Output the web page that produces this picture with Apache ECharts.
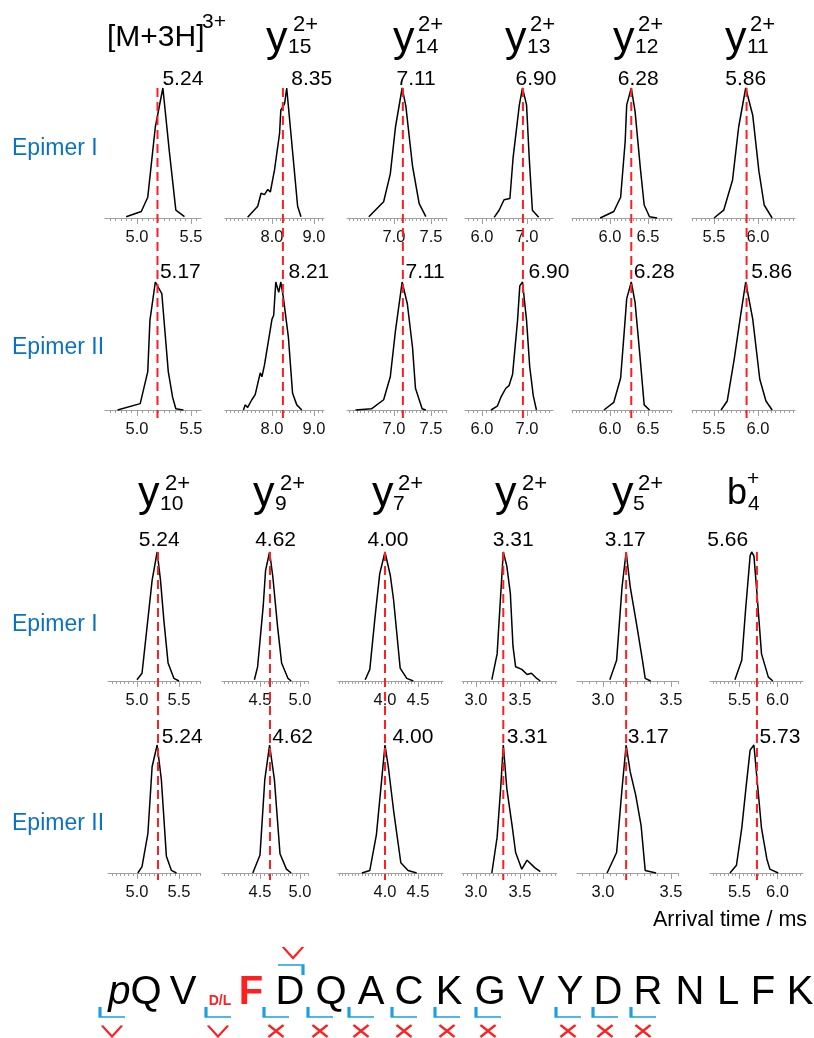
<!DOCTYPE html>
<html><head><meta charset="utf-8">
<script src="https://cdn.jsdelivr.net/npm/echarts@6/dist/echarts.min.js"></script>
<style>html,body{margin:0;padding:0;background:#fff}#c{width:814px;height:1038px}</style>
</head><body><div id="c"></div>
<script>
// ---------------- DATA ----------------
const ionMain = ['[M+3H]','y','y','y','y','y','y','y','y','y','y','b'];
const ionSub  = ['','15','14','13','12','11','10','9','7','6','5','4'];
const ionSup  = ['3+','2+','2+','2+','2+','2+','2+','2+','2+','2+','2+','+'];
const peakEpimerI  = [5.24, 8.35, 7.11, 6.90, 6.28, 5.86, 5.24, 4.62, 4.00, 3.31, 3.17, 5.66];
const peakEpimerII = [5.17, 8.21, 7.11, 6.90, 6.28, 5.86, 5.24, 4.62, 4.00, 3.31, 3.17, 5.73];
const refLine      = [5.19, 8.26, 7.12, 6.91, 6.28, 5.87, 5.25, 4.625, 4.00, 3.31, 3.17, 5.73];
const tickLabels = [[5.0,5.5],[8.0,9.0],[7.0,7.5],[6.0,7.0],[6.0,6.5],[5.5,6.0],
                    [5.0,5.5],[4.5,5.0],[4.0,4.5],[3.0,3.5],[3.0,3.5],[5.5,6.0]];
const axisRange = [[4.704,5.593],[6.881,9.238],[6.365,7.716],[5.622,7.578],[5.5,6.816],[5.25,6.42],
                   [4.655,5.75],[4.025,5.1],[3.288,4.879],[2.841,3.92],[2.809,3.551],[5.112,6.336]];
const minorStep = [0.05,0.1,0.05,0.1,0.05,0.05,0.05,0.05,0.05,0.05,0.05,0.05];

// arrival time distributions [arrival time (ms), normalised intensity]
const I_M3H = [[4.90,0.01],[5.04,0.05],[5.10,0.16],[5.17,0.70],[5.24,1.00],[5.30,0.51],[5.36,0.06],[5.44,0.01]];
const I_y15 = [[7.42,0.005],[7.66,0.09],[7.74,0.19],[7.82,0.18],[7.90,0.22],[7.96,0.20],[8.06,0.37],[8.18,0.65],[8.21,0.83],[8.30,0.88],[8.35,1.00],[8.45,0.65],[8.61,0.09],[8.69,0.01]];
const I_y14 = [[6.66,0.01],[6.86,0.125],[6.95,0.34],[7.02,0.70],[7.11,1.00],[7.16,0.86],[7.25,0.40],[7.34,0.11],[7.43,0.01]];
const I_y13 = [[6.27,0.005],[6.38,0.06],[6.49,0.14],[6.62,0.15],[6.69,0.46],[6.83,0.87],[6.90,1.00],[6.99,0.87],[7.05,0.46],[7.12,0.06],[7.26,0.005]];
const I_y12 = [[5.87,0.0],[6.05,0.05],[6.14,0.16],[6.20,0.59],[6.22,0.87],[6.28,1.00],[6.33,0.82],[6.40,0.38],[6.45,0.10],[6.52,0.01],[6.62,0.0]];
const I_y11 = [[5.50,0.0],[5.61,0.06],[5.71,0.29],[5.78,0.70],[5.86,1.00],[5.94,0.79],[6.01,0.36],[6.07,0.10],[6.16,0.0]];

const II_M3H = [[4.82,0.0],[5.03,0.05],[5.10,0.30],[5.12,0.70],[5.17,1.00],[5.23,0.91],[5.29,0.30],[5.33,0.10],[5.36,0.01],[5.43,0.0]];
const II_y15 = [[7.32,0.0],[7.36,0.04],[7.42,0.02],[7.52,0.08],[7.60,0.12],[7.64,0.12],[7.72,0.29],[7.76,0.26],[7.82,0.35],[7.92,0.55],[8.00,0.71],[8.04,0.74],[8.09,1.00],[8.16,0.92],[8.21,1.00],[8.27,0.88],[8.39,0.57],[8.49,0.13],[8.59,0.04],[8.71,0.0]];
const II_y14 = [[6.48,0.0],[6.70,0.01],[6.86,0.08],[6.95,0.26],[7.02,0.62],[7.11,1.00],[7.18,0.83],[7.25,0.49],[7.29,0.17],[7.38,0.01],[7.43,0.0]];
const II_y13 = [[6.20,0.0],[6.34,0.03],[6.42,0.10],[6.53,0.17],[6.60,0.19],[6.68,0.28],[6.79,0.70],[6.84,0.97],[6.90,1.00],[6.99,0.70],[7.06,0.34],[7.14,0.11],[7.21,0.0]];
const II_y12 = [[5.92,0.0],[6.05,0.06],[6.14,0.25],[6.20,0.71],[6.22,0.87],[6.28,1.00],[6.33,0.84],[6.39,0.45],[6.45,0.04],[6.52,0.0]];
const II_y11 = [[5.58,0.0],[5.65,0.07],[5.73,0.40],[5.80,0.73],[5.86,1.00],[5.94,0.71],[6.02,0.24],[6.09,0.07],[6.16,0.0]];

const I_y10 = [[5.00,0.01],[5.06,0.06],[5.12,0.42],[5.18,0.78],[5.24,1.00],[5.28,0.78],[5.32,0.47],[5.37,0.14],[5.44,0.02],[5.50,0.0]];
const I_y9  = [[4.43,0.01],[4.47,0.11],[4.54,0.58],[4.57,0.86],[4.62,1.00],[4.66,0.81],[4.72,0.42],[4.77,0.14],[4.85,0.02],[4.89,0.0]];
const I_y7  = [[3.70,0.01],[3.77,0.09],[3.85,0.50],[3.92,0.83],[4.00,1.00],[4.08,0.82],[4.13,0.63],[4.23,0.10],[4.33,0.02],[4.43,0.0]];
const I_y6  = [[3.18,0.01],[3.24,0.21],[3.27,0.55],[3.31,1.00],[3.35,0.89],[3.39,0.68],[3.42,0.27],[3.45,0.11],[3.52,0.09],[3.58,0.05],[3.63,0.06],[3.69,0.02],[3.73,0.0]];
const I_y5  = [[3.05,0.01],[3.10,0.16],[3.14,0.73],[3.17,1.00],[3.20,0.73],[3.25,0.42],[3.29,0.16],[3.31,0.02],[3.35,0.0]];
const I_b4  = [[5.44,0.01],[5.53,0.16],[5.58,0.55],[5.64,0.97],[5.66,1.00],[5.69,0.97],[5.73,0.68],[5.79,0.21],[5.88,0.03],[5.94,0.0]];

const II_y10 = [[5.01,0.0],[5.06,0.05],[5.13,0.31],[5.18,0.83],[5.24,1.00],[5.29,0.73],[5.35,0.13],[5.41,0.02],[5.47,0.0]];
const II_y9  = [[4.41,0.0],[4.50,0.14],[4.56,0.73],[4.62,1.00],[4.68,0.73],[4.75,0.15],[4.83,0.03],[4.89,0.0]];
const II_y7  = [[3.65,0.0],[3.77,0.02],[3.87,0.30],[3.95,0.73],[4.00,1.00],[4.05,0.83],[4.13,0.49],[4.24,0.08],[4.35,0.02],[4.48,0.0]];
const II_y6  = [[3.18,0.0],[3.24,0.28],[3.28,0.66],[3.31,1.00],[3.35,0.66],[3.41,0.37],[3.45,0.16],[3.52,0.03],[3.58,0.10],[3.67,0.04],[3.73,0.01]];
const II_y5  = [[3.03,0.0],[3.10,0.16],[3.14,0.66],[3.17,1.00],[3.20,0.79],[3.24,0.61],[3.28,0.37],[3.31,0.02],[3.39,0.0]];
const II_b4  = [[5.375,0.0],[5.46,0.06],[5.53,0.35],[5.59,0.69],[5.64,0.96],[5.69,1.00],[5.73,0.74],[5.79,0.35],[5.86,0.11],[5.90,0.03],[6.01,0.0]];

const curvesByRow = [
  [I_M3H, I_y15, I_y14, I_y13, I_y12, I_y11],
  [II_M3H, II_y15, II_y14, II_y13, II_y12, II_y11],
  [I_y10, I_y9, I_y7, I_y6, I_y5, I_b4],
  [II_y10, II_y9, II_y7, II_y6, II_y5, II_b4]
];
const epimerNames = ['Epimer I','Epimer II','Epimer I','Epimer II'];

// peptide sequence
const residues = ['pQ','V','D/L','F','D','Q','A','C','K','G','V','Y','D','R','N','L','F','K'];
const cleavageMarks = ['check','check','cross','cross','cross','cross','cross','cross','cross','cross','cross'];

// ---------------- LAYOUT ----------------
const FONT = "'Liberation Sans', Arial, Helvetica, sans-serif";
const colExtentTop = [[105,201],[225,324],[347,447],[465,553],[572,672],[692,795]];
const colExtentBottom = [[108,200],[222,308],[338,443],[462,557],[577,678],[710,803]];
const rowGeom = [[88,218],[282,410],[552,681],[745,873]];
const redSpan = [[88,418],[552,880]];
const labelOffset = [
  [[20,-9],[25,-9],[14,-9],[13.5,-9],[7,-9],[0,-9]],
  [[25,-10],[28,-10],[23,-10],[26.5,-10],[23,-10],[26,-10]],
  [[2,-12],[6,-12],[3,-12],[10,-12],[-1,-12],[-24,-12]],
  [[25,-8],[23,-8],[28,-8],[24,-8],[22,-8],[23,-8]]
];
const titleX = [[107,0,202],[266,288,293],[393,415,418],[505,527,530],[613,635,638],[725,747,750],
                [138,160,165],[253,275,280],[372,393,398],[495,517,522],[612,633,638],[727,748,747]];
const epimerY = [149,348,625,824];
// sequence layout in 40px slots
const residuePos = [3.375,4.575,5.5,6.275,7.25,8.275,9.275,10.225,11.225,12.25,13.275,14.25,15.2,16.2,17.25,18.2,19.075,20.0];
const cleavagePos = [2.5,5.15,6.6,7.7,8.725,9.8,10.875,11.9,13.9,14.825,15.775];
const topCleavagePos = [7.575];

const RED = '#ff1f1f', BLUE = '#1a9fe0', GREY = '#a0a0a0', INK = '#000';

function minorValues(min, max, step) {
  const out = [];
  for (let k = Math.ceil(min / step - 1e-9); k * step <= max + 1e-9; k++) out.push(+(k * step).toFixed(4));
  return out;
}

const grid = [], xAxis = [], yAxis = [], series = [], graphic = [];

for (let row = 0; row < 4; row++) {
  for (let col = 0; col < 6; col++) {
    const ion = (row < 2 ? 0 : 6) + col;
    const ext = row < 2 ? colExtentTop[col] : colExtentBottom[col];
    const [top, base] = rowGeom[row];
    const gi = grid.length;
    grid.push({left: ext[0], top: top, width: ext[1] - ext[0], height: base - top, outerBoundsMode: 'none', containLabel: false});
    const [mn, mx] = axisRange[ion];
    const xi = xAxis.length;
    xAxis.push({
      gridIndex: gi, type: 'value', min: mn, max: mx, position: 'bottom',
      axisLine: {show: true, onZero: false, lineStyle: {color: GREY, width: 1}},
      axisTick: {show: true, length: 6, customValues: tickLabels[ion], lineStyle: {color: GREY, width: 1}},
      axisLabel: {show: true, customValues: tickLabels[ion], formatter: v => (+v).toFixed(1), margin: 11,
                  fontSize: 16.5, color: '#111', fontFamily: FONT},
      splitLine: {show: false}
    });
    xAxis.push({
      gridIndex: gi, type: 'value', min: mn, max: mx, position: 'bottom',
      axisLine: {show: false, onZero: false},
      axisTick: {show: true, length: 3, customValues: minorValues(mn, mx, minorStep[ion]), lineStyle: {color: GREY, width: 1}},
      axisLabel: {show: false}, splitLine: {show: false}
    });
    const yi = yAxis.length;
    yAxis.push({gridIndex: gi, type: 'value', min: 0, max: 1, show: false});
    series.push({
      type: 'line', xAxisIndex: xi, yAxisIndex: yi, data: curvesByRow[row][col],
      symbol: 'none', showSymbol: false, clip: false, silent: true, z: 3,
      lineStyle: {color: '#000', width: 1.5}
    });
    const peak = (row % 2 === 0 ? peakEpimerI : peakEpimerII)[ion];
    series.push({
      type: 'scatter', xAxisIndex: xi, yAxisIndex: yi, data: [[peak, 1]], symbolSize: 0, silent: true, z: 5,
      itemStyle: {opacity: 1},
      label: {show: true, position: 'inside', offset: labelOffset[row][col], opacity: 1,
              formatter: p => p.value[0].toFixed(2), fontSize: 21, color: INK, fontFamily: FONT}
    });
  }
}

// red dashed reference lines spanning both epimer rows
for (let pair = 0; pair < 2; pair++) {
  for (let col = 0; col < 6; col++) {
    const ion = pair * 6 + col;
    const ext = pair === 0 ? colExtentTop[col] : colExtentBottom[col];
    const [t, b] = redSpan[pair];
    const gi = grid.length;
    grid.push({left: ext[0], top: t, width: ext[1] - ext[0], height: b - t, outerBoundsMode: 'none', containLabel: false});
    const xi = xAxis.length;
    xAxis.push({gridIndex: gi, type: 'value', min: axisRange[ion][0], max: axisRange[ion][1], show: false});
    const yi = yAxis.length;
    yAxis.push({gridIndex: gi, type: 'value', min: 0, max: 1, show: false});
    series.push({
      type: 'line', xAxisIndex: xi, yAxisIndex: yi, data: [[refLine[ion], 1], [refLine[ion], 0]],
      symbol: 'none', clip: false, silent: true, z: 4,
      lineStyle: {color: RED, width: 2, type: [9, 5]}
    });
  }
}

// peptide sequence grid
{
  const gi = grid.length;
  grid.push({left: 0, top: 940, width: 814, height: 98, outerBoundsMode: 'none', containLabel: false});
  const xi = xAxis.length;
  xAxis.push({gridIndex: gi, type: 'value', min: 0, max: 20.35, show: false});
  const yi = yAxis.length;
  yAxis.push({gridIndex: gi, type: 'value', min: 0, max: 98, inverse: true, show: false});
  const letterData = residues.map((r, i) => {
    const item = {value: [residuePos[i], r === 'D/L' ? 61 : 53], name: r};
    if (r === 'D/L') item.label = {fontSize: 14, fontWeight: 'bold', color: RED};
    if (i === 3) item.label = {fontWeight: 'bold', color: RED};
    return item;
  });
  series.push({
    type: 'scatter', xAxisIndex: xi, yAxisIndex: yi, data: letterData, symbolSize: 0, silent: true,
    itemStyle: {opacity: 1},
    label: {show: true, position: 'inside', fontSize: 40, color: INK, opacity: 1, fontFamily: FONT,
            formatter: p => p.name === 'pQ' ? '{it|p}Q' : p.name,
            rich: {it: {fontStyle: 'italic', fontSize: 40, color: INK, fontFamily: FONT}}}
  });
  const strokeStyle = (c, w) => ({color: 'none', borderColor: c, borderWidth: w, opacity: 1});
  series.push({
    type: 'scatter', xAxisIndex: xi, yAxisIndex: yi, silent: true,
    data: cleavagePos.map(p => [p, 72]),
    symbol: 'path://M0,0L0,10L25,10', symbolSize: [25, 10], symbolOffset: [12.5, 0],
    itemStyle: strokeStyle(BLUE, 2)
  });
  series.push({
    type: 'scatter', xAxisIndex: xi, yAxisIndex: yi, silent: true,
    data: topCleavagePos.map(p => [p, 30]),
    symbol: 'path://M0,0L25,0L25,10', symbolSize: [25, 10], symbolOffset: [-12.5, 0],
    itemStyle: strokeStyle(BLUE, 2)
  });
  series.push({
    type: 'scatter', xAxisIndex: xi, yAxisIndex: yi, silent: true,
    data: cleavagePos.filter((p, i) => cleavageMarks[i] === 'check').map(p => [p, 91]).concat(topCleavagePos.map(p => [p - 0.55, 12.5])),
    symbol: 'path://M0,0L10,11L20,0', symbolSize: [20, 11], symbolOffset: [12, 0],
    itemStyle: strokeStyle(RED, 2)
  });
  series.push({
    type: 'scatter', xAxisIndex: xi, yAxisIndex: yi, silent: true,
    data: cleavagePos.filter((p, i) => cleavageMarks[i] === 'cross').map(p => [p, 91]),
    symbol: 'path://M0,0L15,12M15,0L0,12', symbolSize: [15, 12], symbolOffset: [12, 0],
    itemStyle: strokeStyle(RED, 2.5)
  });
}

// text elements
function txt(x, y, text, size, color, extra) {
  return {type: 'text', x: x, y: y, silent: true,
    style: Object.assign({text: text, fontSize: size, fontFamily: FONT, fill: color,
      align: 'left', verticalAlign: 'middle', textAlign: 'left', textVerticalAlign: 'middle'}, extra || {})};
}
for (let ion = 0; ion < 12; ion++) {
  const top = ion < 6;
  const [xm, xs, xp] = titleX[ion];
  if (ion === 0) {
    graphic.push(txt(xm, 38, ionMain[ion], 30, INK));
    graphic.push(txt(xp, 22, ionSup[ion], 21, INK));
    continue;
  }
  if (ion === 11) {
    graphic.push(txt(xm, 494, ionMain[ion], 36, INK));
    graphic.push(txt(xs, 504, ionSub[ion], 21, INK));
    graphic.push(txt(xp, 479, ionSup[ion], 21, INK));
    continue;
  }
  graphic.push(txt(xm, top ? 39.6 : 494, ionMain[ion], 43, INK));
  graphic.push(txt(xs, top ? 47.5 : 504, ionSub[ion], 21, INK));
  graphic.push(txt(xp, top ? 24.5 : 483.5, ionSup[ion], 22, INK));
}
epimerNames.forEach((n, r) => graphic.push(txt(12, epimerY[r], n, 23, '#0a72c2')));
graphic.push(txt(653, 920, 'Arrival time / ms', 21.5, INK));

const chart = echarts.init(document.getElementById('c'), null, {renderer: 'canvas'});
chart.setOption({
  animation: false,
  backgroundColor: '#fff',
  grid: grid, xAxis: xAxis, yAxis: yAxis, series: series, graphic: graphic
});
</script></body></html>
